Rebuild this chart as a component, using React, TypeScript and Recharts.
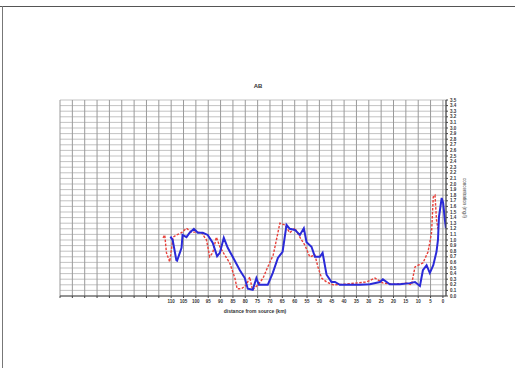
import React from "react";
import { LineChart, Line, XAxis, YAxis, CartesianGrid } from "recharts";

const blueX = [110.3, 109.4, 107.9, 107.6, 105.8, 105.4, 103.8, 102.5, 100.8, 99.2, 97.2, 95.2, 93.2, 91.4, 90.3, 88.7, 87.1, 85.1, 82.2, 80.2, 79.0, 77.0, 75.5, 74.5, 72.9, 70.9, 68.9, 66.8, 64.9, 63.3, 62.0, 59.9, 57.9, 56.3, 55.2, 53.2, 51.8, 49.8, 48.7, 47.1, 45.1, 43.7, 41.7, 37.7, 33.6, 29.6, 25.5, 24.3, 21.5, 17.4, 13.4, 11.3, 9.3, 8.1, 6.6, 5.3, 3.9, 2.6, 2.0, 1.6, 0.5, -0.1, -0.8, -1.2];
const blueY = [1.06, 1.0, 0.64, 0.63, 0.86, 1.09, 1.05, 1.13, 1.2, 1.13, 1.13, 1.09, 0.95, 0.71, 0.77, 1.04, 0.86, 0.7, 0.46, 0.32, 0.13, 0.11, 0.32, 0.2, 0.2, 0.2, 0.41, 0.68, 0.79, 1.27, 1.2, 1.18, 1.09, 1.21, 0.96, 0.88, 0.7, 0.7, 0.77, 0.38, 0.25, 0.25, 0.2, 0.2, 0.2, 0.21, 0.25, 0.3, 0.21, 0.21, 0.23, 0.25, 0.18, 0.46, 0.55, 0.41, 0.55, 0.79, 1.0, 1.41, 1.75, 1.66, 1.36, 1.21];

const redX = [113.3, 112.6, 111.9, 110.6, 109.2, 107.9, 105.8, 103.8, 101.8, 99.8, 97.7, 95.7, 94.4, 93.2, 91.7, 90.3, 88.3, 86.3, 84.2, 83.3, 81.5, 79.5, 78.2, 77.1, 74.8, 72.8, 70.9, 68.7, 67.4, 66.0, 64.0, 62.0, 59.9, 57.9, 55.9, 53.9, 51.8, 50.6, 49.1, 47.1, 44.4, 39.7, 35.6, 30.9, 27.5, 24.2, 19.4, 14.7, 12.7, 11.3, 10.0, 8.1, 6.0, 4.6, 3.9, 3.2, 2.6, 1.9];
const redY = [1.04, 1.09, 0.77, 0.61, 1.05, 1.09, 1.13, 1.21, 1.14, 1.14, 1.13, 1.0, 0.7, 0.77, 1.05, 0.88, 0.73, 0.59, 0.32, 0.13, 0.13, 0.2, 0.34, 0.11, 0.2, 0.32, 0.52, 0.73, 1.0, 1.3, 1.27, 1.13, 1.21, 1.05, 0.91, 0.7, 0.73, 0.52, 0.32, 0.25, 0.2, 0.21, 0.23, 0.25, 0.32, 0.23, 0.21, 0.23, 0.2, 0.52, 0.55, 0.59, 0.79, 1.13, 1.77, 1.8, 1.36, 1.18];

const xTicks = Array.from({ length: 32 }, (_, i) => i * 5);
const xLabelMax = 110;
const yTicks = Array.from({ length: 36 }, (_, i) => Math.round(i * 10) / 100);

const blueData = blueX.map((x, i) => ({ x, y: blueY[i] }));
const redData = redX.map((x, i) => ({ x, y: redY[i] }));

const font = "'Liberation Sans', Arial, sans-serif";

export default function App() {
  return (
    <div style={{ position: "absolute", left: 0, top: 0, width: 515, height: 368, background: "#fff", overflow: "hidden", fontFamily: font }}>
      <div style={{ position: "absolute", left: 0, top: 6, width: 515, height: 0, borderTop: "1.5px solid #555" }} />
      <div style={{ position: "absolute", left: 2, top: 6, width: 0, height: 362, borderLeft: "1.5px solid #777" }} />
      <div style={{ position: "absolute", left: 250, top: 83, width: 16, textAlign: "center", fontSize: 6, fontWeight: "bold", color: "#333" }}>AB</div>
      <div style={{ position: "absolute", left: 215, top: 308, width: 80, textAlign: "center", fontSize: 5, fontWeight: "bold", color: "#333" }}>distance from source (km)</div>
      <div style={{ position: "absolute", left: 464, top: 198, fontSize: 4.5, color: "#444", transform: "translate(-50%, -50%) rotate(90deg)", whiteSpace: "nowrap" }}>concentration (mg/l)</div>
      <LineChart
        width={515}
        height={368}
        data={blueData}
        margin={{ top: 100, right: 49, bottom: 60, left: 60 }}
        style={{ position: "absolute", left: 0, top: 0 }}
      >
        <CartesianGrid stroke="#bcbcbc" strokeWidth={0.9} vertical={false} />
        <CartesianGrid stroke="#9a9a9a" strokeWidth={1} horizontal={false} />
        <XAxis
          type="number"
          dataKey="x"
          reversed
          domain={[-1.25, 155]}
          ticks={xTicks}
          interval={0}
          allowDataOverflow
          height={12}
          tick={{ fontSize: 4.5, fill: "#333", fontWeight: "bold" }}
          tickFormatter={(v: number) => (v <= xLabelMax ? String(v) : "")}
          tickSize={2}
          stroke="#444"
        />
        <YAxis
          type="number"
          orientation="right"
          domain={[0, 3.5]}
          ticks={yTicks}
          interval={0}
          width={20}
          tick={{ fontSize: 4.5, fill: "#333", fontWeight: "bold" }}
          tickFormatter={(v: number) => v.toFixed(1)}
          tickSize={2}
          stroke="#444"
        />
        <Line data={redData} dataKey="y" type="linear" stroke="#e8403a" strokeWidth={1.4} strokeDasharray="2.5 1.5" dot={false} isAnimationActive={false} />
        <Line data={blueData} dataKey="y" type="linear" stroke="#2a2ad8" strokeWidth={2} dot={false} isAnimationActive={false} />
      </LineChart>
    </div>
  );
}
